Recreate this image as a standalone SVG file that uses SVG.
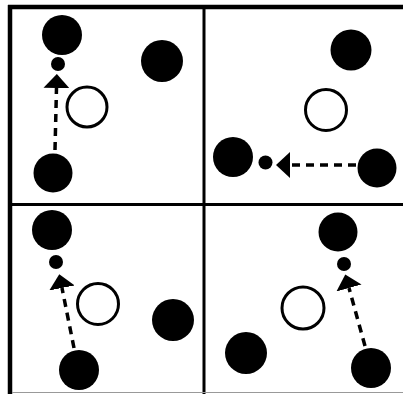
<svg xmlns="http://www.w3.org/2000/svg" width="403" height="394" viewBox="0 0 403 394">
<style>
.frame{stroke:#000;fill:none}
.dot{fill:#000}
.open{fill:#fff;stroke:#000;stroke-width:3}
.small{fill:#000}
.conn{stroke:#000;stroke-width:3.5;stroke-dasharray:8 6;fill:none}
</style>
<defs>
<marker id="arr" viewBox="0 0 14 26" refX="0" refY="13" markerWidth="14" markerHeight="26" markerUnits="userSpaceOnUse" orient="auto">
<path d="M0,0 L14,13 L0,26 Z" fill="#000"/>
</marker>
</defs>
<rect width="403" height="394" fill="#fff"/>
<g id="frame">
<line class="frame" x1="8" y1="7" x2="403" y2="7" stroke-width="4.5"/>
<line class="frame" x1="10" y1="5" x2="10" y2="394" stroke-width="4.5"/>
<line class="frame" x1="204" y1="7" x2="204" y2="394" stroke-width="3"/>
<line class="frame" x1="10" y1="204.5" x2="403" y2="204.5" stroke-width="3"/>
<line x1="12" y1="392.5" x2="403" y2="392.5" stroke="#999" stroke-width="1"/>
</g>
<g id="connectors">
<line class="conn" x1="55" y1="150" x2="56.5" y2="88" marker-end="url(#arr)"/>
<line class="conn" x1="356" y1="165" x2="290" y2="165" marker-end="url(#arr)"/>
<line class="conn" x1="74" y1="348" x2="62" y2="288" marker-end="url(#arr)"/>
<line class="conn" x1="365" y1="346" x2="349" y2="288" marker-end="url(#arr)"/>
</g>
<g id="q1">
<circle class="dot" cx="62" cy="35" r="20"/>
<circle class="small" cx="58" cy="64" r="7"/>
<circle class="open" cx="87" cy="107" r="20"/>
<circle class="dot" cx="162" cy="61" r="21"/>
<circle class="dot" cx="53" cy="173" r="19.5"/>
</g>
<g id="q2">
<circle class="dot" cx="351" cy="50" r="20.5"/>
<circle class="open" cx="326" cy="110" r="20.5"/>
<circle class="dot" cx="233" cy="157" r="20"/>
<circle class="small" cx="265.5" cy="162.5" r="7"/>
<circle class="dot" cx="377" cy="168" r="19.5"/>
</g>
<g id="q3">
<circle class="dot" cx="52" cy="230" r="20"/>
<circle class="small" cx="56" cy="262" r="7"/>
<circle class="open" cx="98" cy="304" r="20.5"/>
<circle class="dot" cx="173" cy="320" r="21"/>
<circle class="dot" cx="79" cy="370" r="20"/>
</g>
<g id="q4">
<circle class="dot" cx="338" cy="232" r="19.5"/>
<circle class="small" cx="344" cy="264" r="7"/>
<circle class="open" cx="303" cy="308" r="21"/>
<circle class="dot" cx="246" cy="353" r="21"/>
<circle class="dot" cx="371" cy="368" r="20"/>
</g>
</svg>
